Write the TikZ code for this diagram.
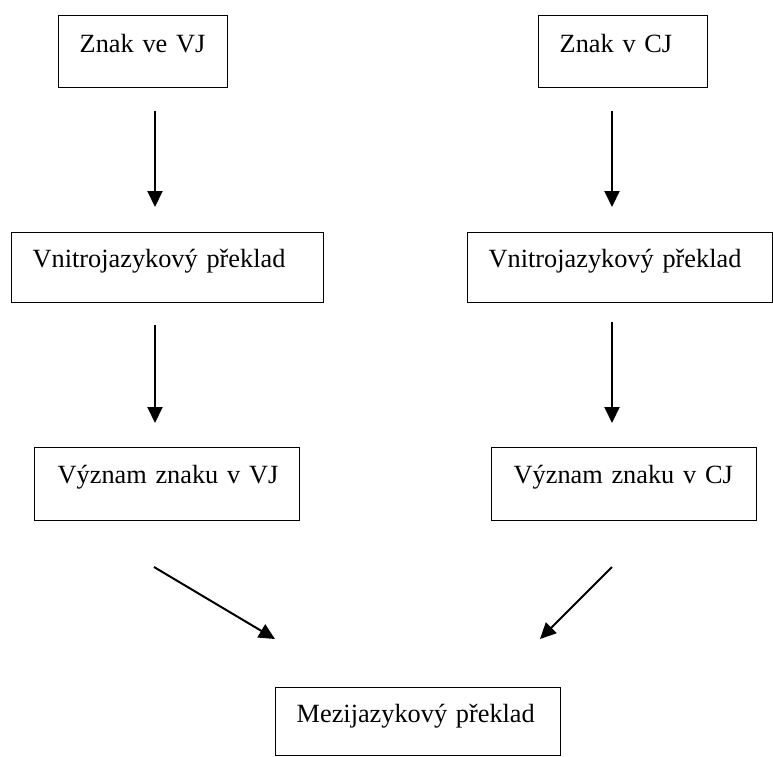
\documentclass[tikz,border=0pt]{standalone}
\usepackage{fontspec}
\setmainfont{Liberation Serif}
\usetikzlibrary{arrows.meta}
\tikzset{
  box/.style={draw, line width=1.4pt, inner sep=0pt, align=left, anchor=north west,
    font=\fontsize{26.3}{30}\selectfont},
  arr/.style={line width=2pt, -{Triangle[length=16pt,width=15pt]}}
}
\begin{document}
\begin{tikzpicture}[x=1pt,y=-1pt]
\useasboundingbox (0,0) rectangle (773,756);
\node[box, text width=169pt, text height=37pt, text depth=35pt] (b1) at (58,15) {\hspace*{21pt}Znak ve VJ};
\node[box, text width=169pt, text height=37pt, text depth=35pt] (b2) at (538,15) {\hspace*{21pt}Znak v CJ};
\node[box, text width=312pt, text height=35pt, text depth=35pt] (b3) at (11,232) {\hspace*{21pt}Vnitrojazykový překlad};
\node[box, text width=305pt, text height=35pt, text depth=35pt] (b4) at (467,232) {\hspace*{21pt}Vnitrojazykový překlad};
\node[box, text width=265pt, text height=36pt, text depth=37pt] (b5) at (34,447) {\hspace*{23pt}Význam znaku v VJ};
\node[box, text width=265pt, text height=36pt, text depth=37pt] (b6) at (491,447) {\hspace*{22pt}Význam znaku v CJ};
\node[box, text width=285pt, text height=35pt, text depth=33pt] (b7) at (275,687) {\hspace*{21pt}Mezijazykový překlad};
\coordinate (a1s) at (155,111); \coordinate (a1e) at (155,207);
\coordinate (a2s) at (612,111); \coordinate (a2e) at (612,207);
\coordinate (a3s) at (155,325); \coordinate (a3e) at (155,423);
\coordinate (a4s) at (612,322); \coordinate (a4e) at (612,423);
\coordinate (a5s) at (154,567); \coordinate (a5e) at (275,639);
\coordinate (a6s) at (612,567); \coordinate (a6e) at (540,639);
\draw[arr] (a1s) -- (a1e);
\draw[arr] (a2s) -- (a2e);
\draw[arr] (a3s) -- (a3e);
\draw[arr] (a4s) -- (a4e);
\draw[arr] (a5s) -- (a5e);
\draw[arr] (a6s) -- (a6e);
\end{tikzpicture}
\end{document}
